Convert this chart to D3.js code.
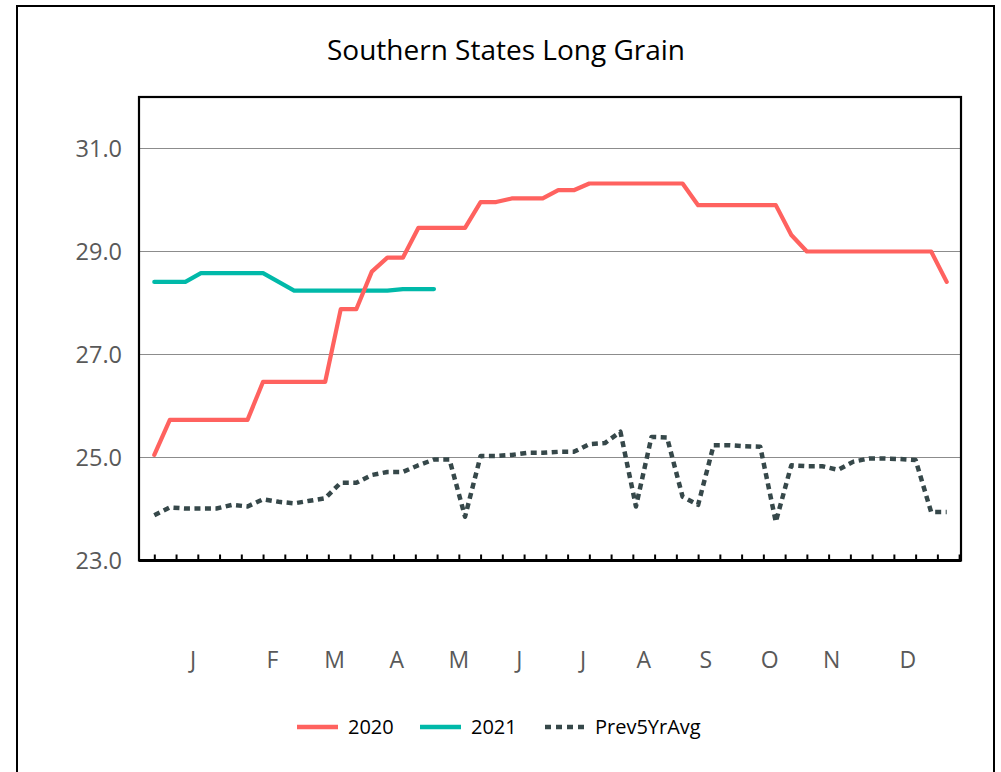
<!DOCTYPE html>
<html>
<head>
<meta charset="utf-8">
<script src="https://cdn.jsdelivr.net/npm/d3@7"></script>
<style>
  body { margin: 0; background: #fff; }
  svg { display: block; font-family: "Open Sans", "Noto Sans", sans-serif; }
</style>
</head>
<body>
<script>
// weekly values, week 0..51
const series2020 = [
  25.05, 25.73, 25.73, 25.73, 25.73, 25.73, 25.73, 26.47, 26.47, 26.47,
  26.47, 26.47, 27.88, 27.88, 28.61, 28.88, 28.88, 29.46, 29.46, 29.46,
  29.46, 29.96, 29.96, 30.03, 30.03, 30.03, 30.19, 30.19, 30.32, 30.32,
  30.32, 30.32, 30.32, 30.32, 30.32, 29.9, 29.9, 29.9, 29.9, 29.9,
  29.9, 29.32, 29.0, 29.0, 29.0, 29.0, 29.0, 29.0, 29.0, 29.0,
  29.0, 28.41
];
const series2021 = [
  28.41, 28.41, 28.41, 28.58, 28.58, 28.58, 28.58, 28.58, 28.41, 28.24,
  28.24, 28.24, 28.24, 28.24, 28.24, 28.24, 28.27, 28.27, 28.27
];
const prev5YrAvg = [
  23.88, 24.03, 24.01, 24.01, 24.01, 24.08, 24.05, 24.19, 24.14, 24.11,
  24.16, 24.21, 24.51, 24.51, 24.66, 24.72, 24.72, 24.85, 24.96, 24.96,
  23.85, 25.03, 25.03, 25.05, 25.09, 25.09, 25.11, 25.11, 25.26, 25.28,
  25.5, 24.05, 25.4, 25.39, 24.24, 24.08, 25.24, 25.24, 25.22, 25.21,
  23.75, 24.85, 24.83, 24.83, 24.76, 24.92, 24.98, 24.98, 24.97, 24.95,
  23.94, 23.94
];
const yTicks = [23, 25, 27, 29, 31];
const monthLabels = ["J", "F", "M", "A", "M", "J", "J", "A", "S", "O", "N", "D"];
const monthWeeks = [2.5, 7.6, 11.6, 15.6, 19.6, 23.5, 27.6, 31.5, 35.5, 39.6, 43.6, 48.5];
const legendNames = ["2020", "2021", "Prev5YrAvg"];

const W = 1001, H = 772;
const box = { left: 139, right: 961, top: 97, bottom: 560.5 };
const colors = { "2020": "#ff625f", "2021": "#00b9a9", "Prev5YrAvg": "#36484a" };

const svg = d3.select("body").append("svg")
  .attr("width", W)
  .attr("height", H);

// outer frame
svg.append("rect")
  .attr("x", 17).attr("y", 6)
  .attr("width", 977).attr("height", 800)
  .attr("fill", "none")
  .attr("stroke", "#000")
  .attr("stroke-width", 2);

svg.append("text")
  .attr("x", 506)
  .attr("y", 60)
  .attr("text-anchor", "middle")
  .attr("font-size", 28)
  .attr("fill", "#000")
  .text("Southern States Long Grain");

const x = d3.scaleLinear().domain([0, 51]).range([154.3, 946.7]);
const y = d3.scaleLinear().domain([23, 32]).range([box.bottom, box.top]);

// gridlines
svg.append("g")
  .selectAll("line")
  .data(yTicks.filter(d => d > 23))
  .join("line")
  .attr("x1", box.left).attr("x2", box.right)
  .attr("y1", d => y(d)).attr("y2", d => y(d))
  .attr("stroke", "#8c8c8c")
  .attr("stroke-width", 1.2);

// y labels
const yAxis = d3.axisLeft(y)
  .tickValues(yTicks)
  .tickFormat(d3.format(".1f"))
  .tickSize(0)
  .tickPadding(17);
const yg = svg.append("g")
  .attr("transform", `translate(${box.left},0)`)
  .call(yAxis);
yg.select(".domain").remove();
yg.selectAll("text")
  .attr("font-size", 23.5)
  .attr("font-family", "'Open Sans', 'Noto Sans', sans-serif")
  .attr("fill", "#595959");

// small ticks along the bottom, every 1.4 weeks
const tickWeeks = d3.range(0, 38).map(k => k * 1.4);
const xAxis = d3.axisBottom(x)
  .tickValues(tickWeeks)
  .tickFormat("")
  .tickSizeInner(-6)
  .tickSizeOuter(0);
const xg = svg.append("g")
  .attr("transform", `translate(0,${box.bottom})`)
  .call(xAxis);
xg.select(".domain").remove();
xg.selectAll("line").attr("stroke", "#000").attr("stroke-width", 2);

// month labels
svg.append("g")
  .selectAll("text")
  .data(monthLabels)
  .join("text")
  .attr("x", (d, i) => x(monthWeeks[i]))
  .attr("y", 668)
  .attr("text-anchor", "middle")
  .attr("font-size", 23)
  .attr("fill", "#595959")
  .text(d => d);

// plot frame
svg.append("rect")
  .attr("x", box.left).attr("y", box.top)
  .attr("width", box.right - box.left)
  .attr("height", box.bottom - box.top)
  .attr("fill", "none")
  .attr("stroke", "#000")
  .attr("stroke-width", 2.2);
svg.append("line")
  .attr("x1", box.left).attr("x2", box.right)
  .attr("y1", box.bottom).attr("y2", box.bottom)
  .attr("stroke", "#000")
  .attr("stroke-width", 3);

const line = d3.line()
  .x((d, i) => x(i))
  .y(d => y(d));

svg.append("path")
  .datum(prev5YrAvg)
  .attr("d", line)
  .attr("fill", "none")
  .attr("stroke", colors["Prev5YrAvg"])
  .attr("stroke-width", 4.5)
  .attr("stroke-linejoin", "round")
  .attr("stroke-dasharray", "6,4.5");

svg.append("path")
  .datum(series2021)
  .attr("d", line)
  .attr("fill", "none")
  .attr("stroke", colors["2021"])
  .attr("stroke-width", 4.2)
  .attr("stroke-linecap", "round")
  .attr("stroke-linejoin", "round");

svg.append("path")
  .datum(series2020)
  .attr("d", line)
  .attr("fill", "none")
  .attr("stroke", colors["2020"])
  .attr("stroke-width", 4.2)
  .attr("stroke-linecap", "round")
  .attr("stroke-linejoin", "round");

// legend
const legendX = [297, 420, 545];
const lg = svg.append("g");
legendNames.forEach((name, i) => {
  const gItem = lg.append("g").attr("transform", `translate(${legendX[i]},727)`);
  gItem.append("line")
    .attr("x1", 0).attr("x2", name === "Prev5YrAvg" ? 39 : 41)
    .attr("y1", 0).attr("y2", 0)
    .attr("stroke", colors[name])
    .attr("stroke-width", 4.5)
    .attr("stroke-dasharray", name === "Prev5YrAvg" ? "6,5" : null);
  gItem.append("text")
    .attr("x", name === "Prev5YrAvg" ? 50 : 51)
    .attr("y", 7)
    .attr("font-size", 20)
    .attr("fill", "#000")
    .text(name);
});
</script>
</body>
</html>
